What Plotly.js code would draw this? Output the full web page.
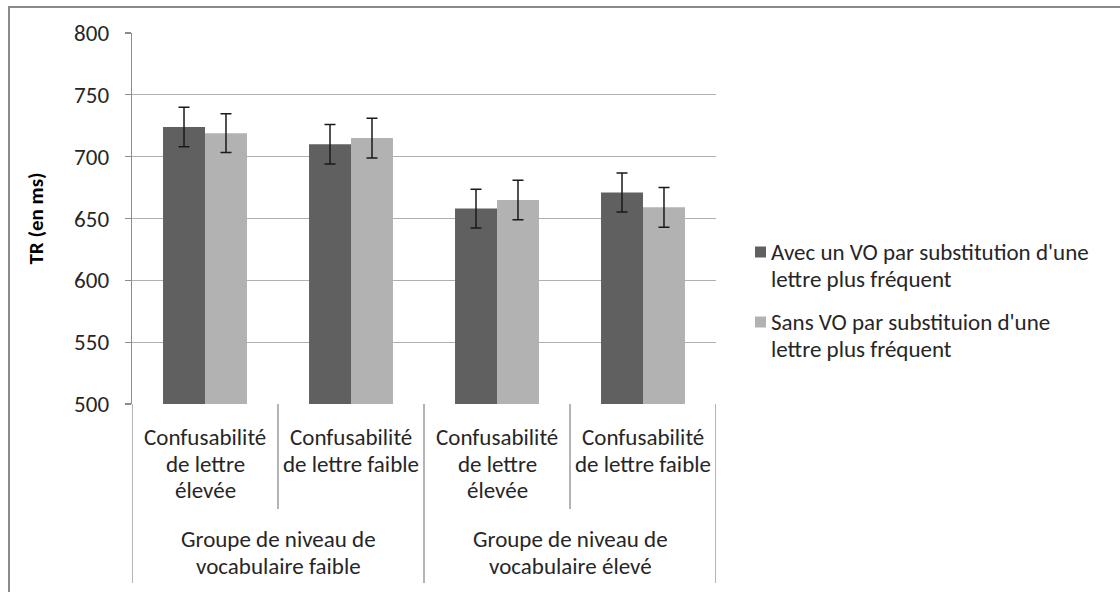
<!DOCTYPE html>
<html>
<head>
<meta charset="utf-8">
<script src="https://cdn.plot.ly/plotly-3.0.1.min.js"></script>
<style>html,body{margin:0;padding:0;background:#fff;}#chart{width:1120px;height:592px;}</style>
</head>
<body>
<div id="chart"></div>
<script>
// ---- data ----
const groups = ["Groupe de niveau de\nvocabulaire faible", "Groupe de niveau de\nvocabulaire élevé"];
const conditions = ["Confusabilité\nde lettre\nélevée", "Confusabilité\nde lettre faible"];
const seriesNames = [
  "Avec un VO par substitution d'une\nlettre plus fréquent",
  "Sans VO par substituion d'une\nlettre plus fréquent"
];
const avecValues = [724, 710, 658, 671];
const sansValues = [719, 715, 665, 659];
const avecErrors = [16, 16, 15.7, 15.7];
const sansErrors = [15.7, 16, 16, 16];
const yTickVals = [500, 550, 600, 650, 700, 750, 800];
const yTitle = "TR (en ms)";

// ---- layout helpers (pixel geometry) ----
const W = 1120, H = 592;
const L = 132, R = 716, T = 33, B = 404;
const px = v => (v - L) / (R - L);
const py = v => (B - v) / (B - T);
const FONT = "Carlito, Calibri, Lato, 'Open Sans', sans-serif";
const FS = 23;
const LH = 26.5;
const TXT = "#262626";

const keys = [];
const innerLabels = [];
groups.forEach((g, gi) => conditions.forEach((c, ci) => {
  keys.push(gi + "|" + ci);
  innerLabels.push(c);
}));

const colors = ["#606060", "#b2b2b2"];
const vals = [avecValues, sansValues];
const errs = [avecErrors, sansErrors];

const traces = seriesNames.map((name, i) => ({
  type: "bar",
  name: name.replace("\n", "<br>"),
  x: keys,
  y: vals[i],
  marker: {color: colors[i], line: {width: 0}},
  error_y: {type: "data", array: errs[i], visible: true, color: "#1a1a1a", thickness: 1.5, width: 5.5},
  hoverinfo: "y",
  showlegend: false
}));

const annotations = [];
function addLines(text, xref, x, yCenterFirst, xanchor) {
  text.split("\n").forEach((line, k) => {
    annotations.push({
      xref: xref, yref: "paper", x: x, y: py(yCenterFirst + k * LH),
      yanchor: "middle", xanchor: xanchor, text: line, showarrow: false,
      font: {family: FONT, size: FS, color: TXT}
    });
  });
}
innerLabels.forEach((lab, i) => addLines(lab, "x", i, 437, "center"));
groups.forEach((g, gi) => addLines(g, "x", gi * conditions.length + (conditions.length - 1) / 2, 539, "center"));

const shapes = [];
const lineC = "#8c8c8c";
// inner dividers
groups.forEach((g, gi) => {
  for (let ci = 1; ci < conditions.length; ci++) {
    const xb = gi * conditions.length + ci - 0.5;
    shapes.push({type: "line", xref: "x", yref: "paper", x0: xb, x1: xb, y0: py(B), y1: py(509), line: {color: lineC, width: 1.3}});
  }
});
// outer dividers
for (let gi = 0; gi <= groups.length; gi++) {
  const xb = gi * conditions.length - 0.5;
  shapes.push({type: "line", xref: "x", yref: "paper", x0: xb, x1: xb, y0: py(B), y1: py(583), line: {color: lineC, width: 1.3}});
}
// legend (keys + text)
seriesNames.forEach((name, i) => {
  const yc = 252 + i * 70;
  shapes.push({type: "rect", xref: "paper", yref: "paper", x0: px(755), x1: px(766), y0: py(yc - 5.5), y1: py(yc + 5.5), fillcolor: colors[i], line: {width: 0}});
  addLines(name, "paper", px(769), yc, "left");
});
// chart border
shapes.push({type: "rect", xref: "paper", yref: "paper", x0: px(9), x1: px(1130), y0: py(7), y1: py(600), line: {color: "#8a8a8a", width: 2}});

const layout = {
  width: W, height: H,
  margin: {l: L, r: W - R, t: T, b: H - B, pad: 0},
  paper_bgcolor: "#fff", plot_bgcolor: "#fff",
  barmode: "group", bargap: 0.425, bargroupgap: 0,
  font: {family: FONT, color: TXT},
  showlegend: false,
  xaxis: {
    type: "category", showticklabels: false, ticks: "", showgrid: false,
    showline: false, zeroline: false, range: [-0.5, 3.5], fixedrange: true
  },
  yaxis: {
    range: [500, 800], tickvals: yTickVals, ticks: "outside", ticklen: 6, tickcolor: lineC, tickwidth: 1.3,
    showline: true, linecolor: lineC, linewidth: 1.3,
    showgrid: true, gridcolor: "#b0b0b0", gridwidth: 1.3, zeroline: false,
    tickfont: {family: FONT, size: FS, color: TXT}, ticklabelstandoff: 11,
    title: {text: "<b>" + yTitle + "</b>", font: {family: FONT, size: 21, color: "#000"}, standoff: 24},
    automargin: false
  },
  annotations: annotations,
  shapes: shapes
};

Plotly.newPlot("chart", traces, layout, {staticPlot: true, displayModeBar: false});
</script>
</body>
</html>
